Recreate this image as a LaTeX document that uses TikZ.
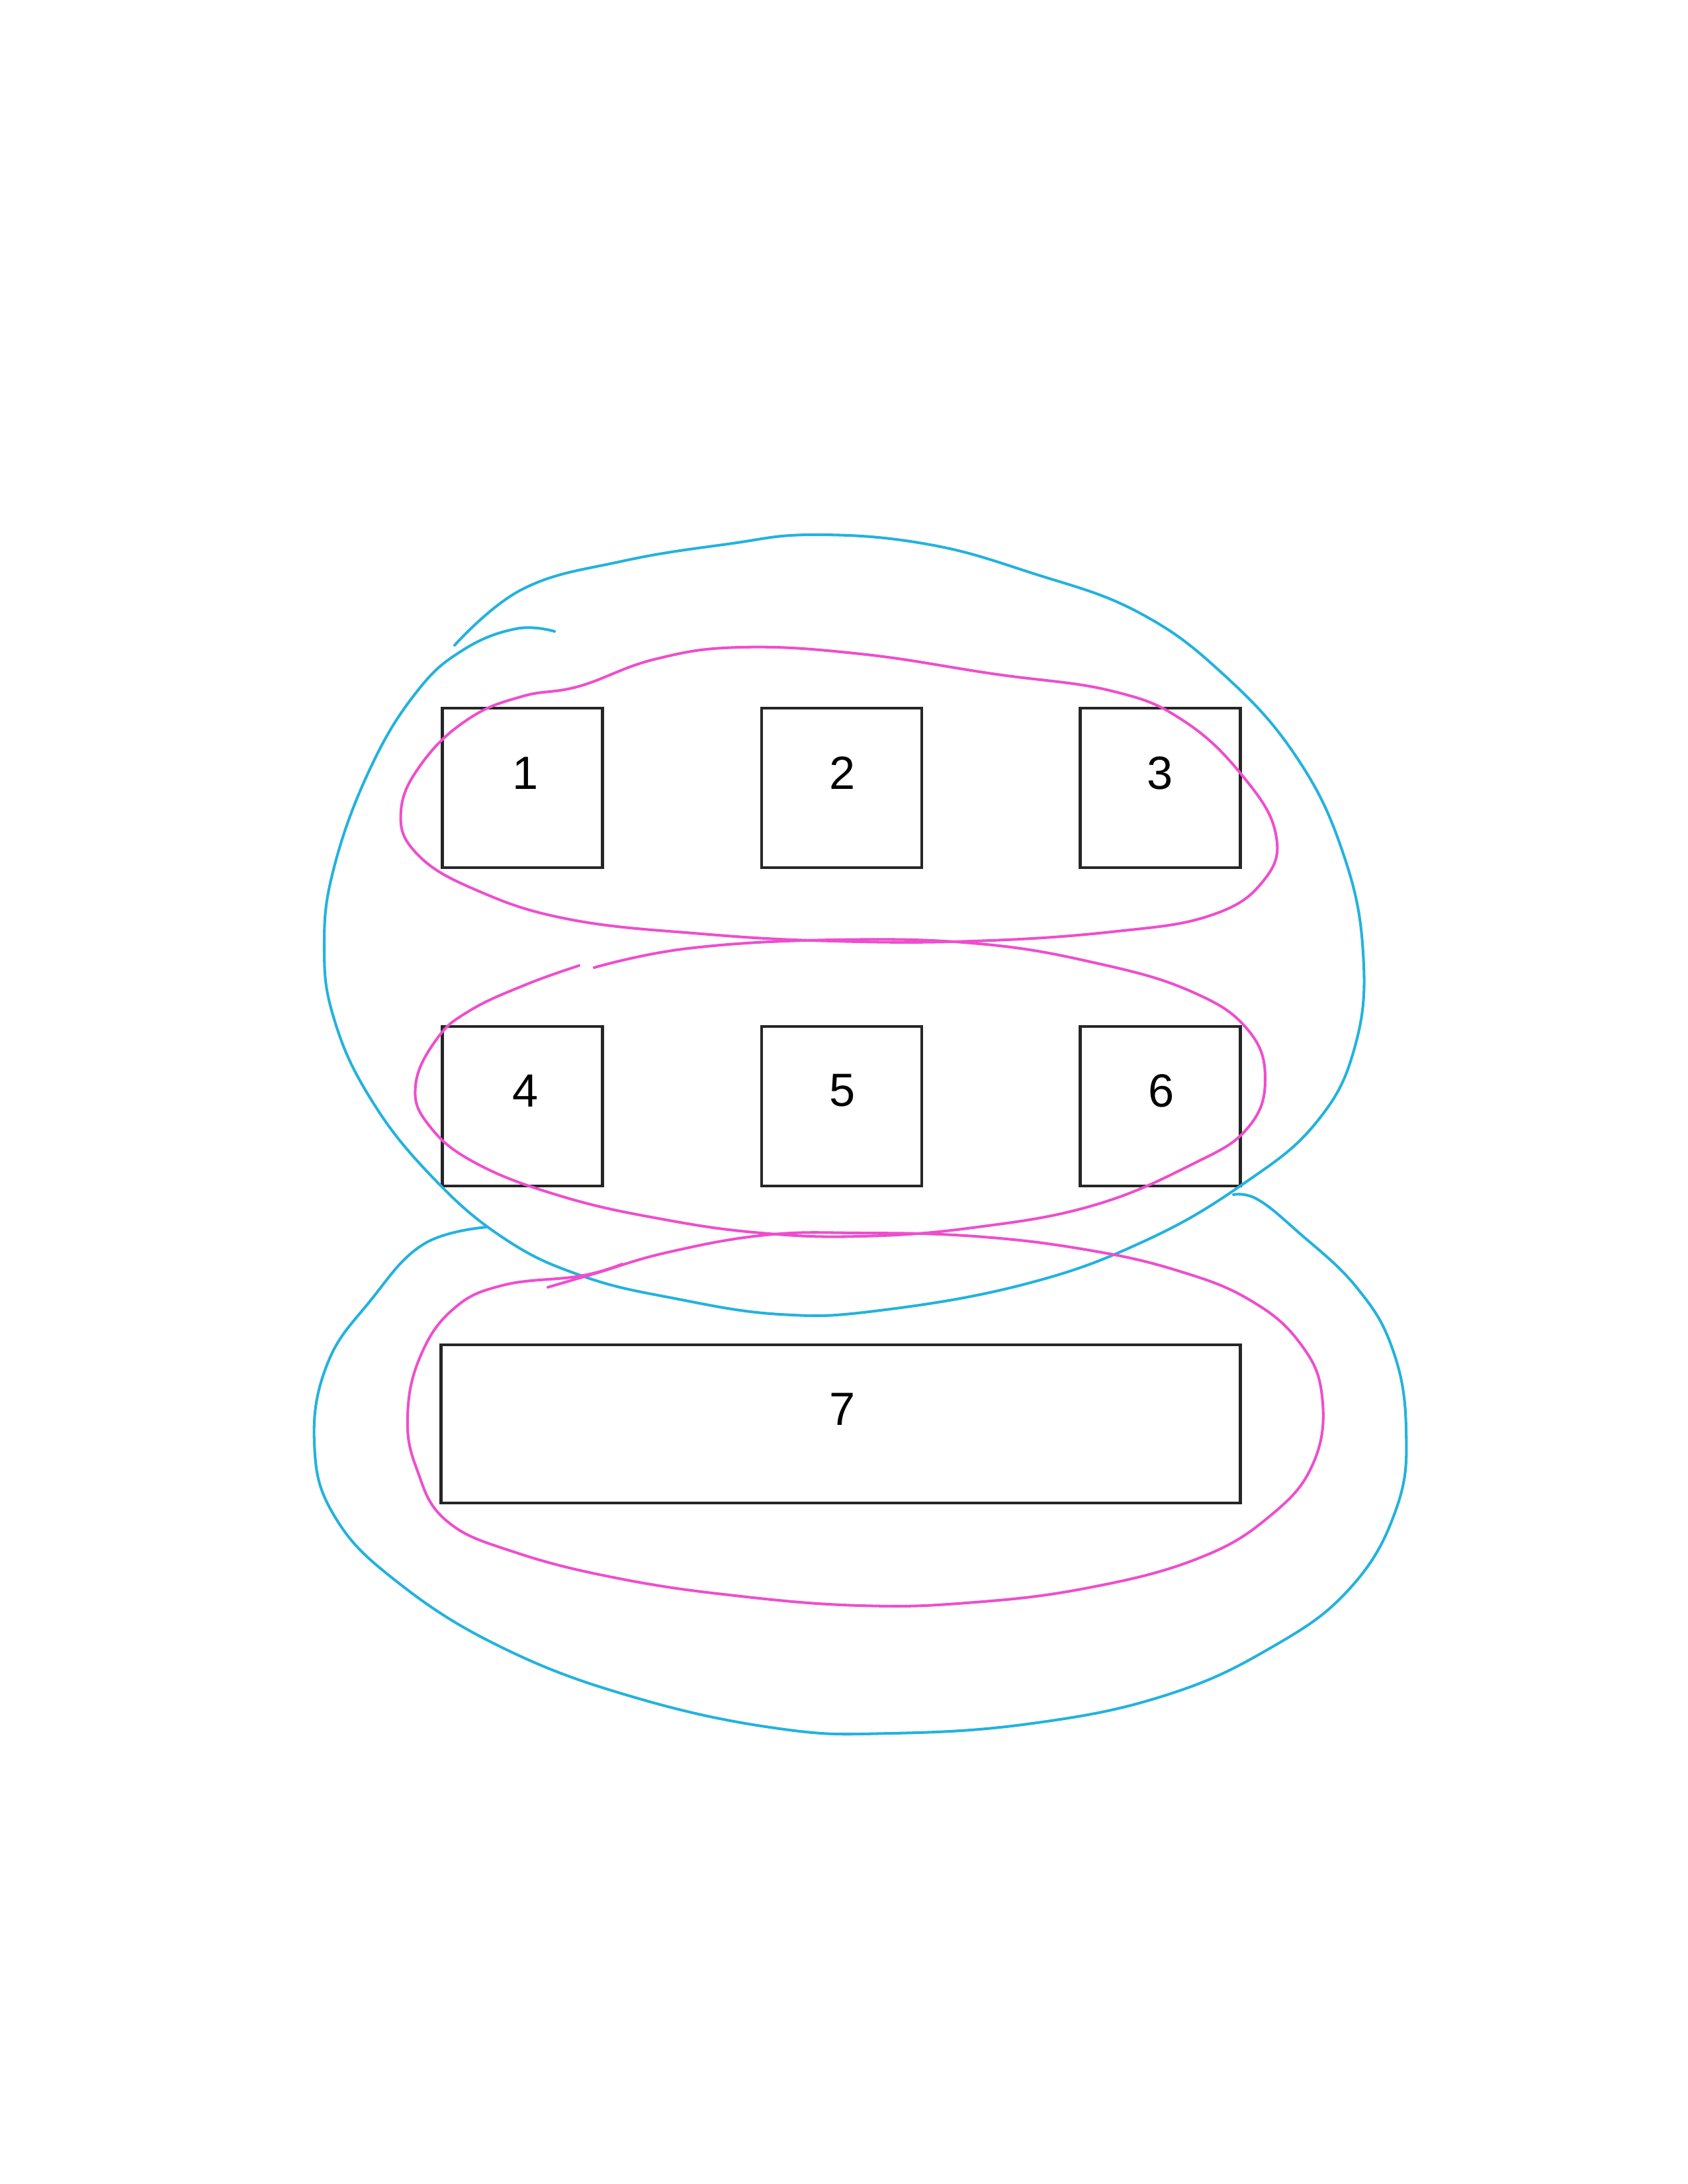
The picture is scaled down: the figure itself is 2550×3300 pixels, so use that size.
\documentclass[tikz,border=0pt]{standalone}
\usepackage{fontspec}
\setmainfont{Liberation Sans}
\definecolor{penblue}{RGB}{35,178,222}
\definecolor{penpink}{RGB}{238,78,205}
\begin{document}
\begin{tikzpicture}[x=0.01cm,y=-0.01cm,
  box/.style={draw=black!85,line width=1.3pt,inner sep=0pt,minimum width=2.42cm,minimum height=2.41cm},
  wide/.style={draw=black!85,line width=1.3pt,inner sep=0pt,minimum width=12.07cm,minimum height=2.39cm},
  lbl/.style={font=\fontsize{20}{24}\selectfont,inner sep=0pt},
  blue/.style={draw=penblue,line width=1.15pt,line cap=round,line join=round},
  pink/.style={draw=penpink,line width=1.15pt,line cap=round,line join=round}]
\useasboundingbox (0,0) rectangle (2550,3300);
\fill[white] (0,0) rectangle (2550,3300);
% boxes
\node[box] (b1) at (789.5,1190.5) {};
\node[box] (b2) at (1272,1190.5) {};
\node[box] (b3) at (1753.5,1190.5) {};
\node[box] (b4) at (789.5,1671.5) {};
\node[box] (b5) at (1272,1671.5) {};
\node[box] (b6) at (1753.5,1671.5) {};
\node[wide] (b7) at (1270.5,2151.5) {};
% labels
\node[lbl] (t1) at (794,1168) {1};
\node[lbl] (t2) at (1273,1168) {2};
\node[lbl] (t3) at (1753,1168) {3};
\node[lbl] (t4) at (794,1648) {4};
\node[lbl] (t5) at (1273,1648) {5};
\node[lbl] (t6) at (1755,1648) {6};
\node[lbl] (t7) at (1273,2129) {7};
% blue upper loop
\draw[blue] plot[smooth,tension=0.7] coordinates {
(687,975) (790,890) (940,848) (1100,822) (1230,808) (1400,822) (1560,866)
(1720,925) (1850,1020) (1960,1145) (2030,1290) (2060,1440) (2048,1580)
(1990,1695) (1880,1788) (1730,1875) (1550,1940) (1330,1980) (1180,1986)
(1020,1962) (880,1928) (760,1870) (650,1775) (560,1660) (505,1540) (490,1430)
(505,1310) (560,1160) (630,1045) (700,982) (780,950) (838,954)};
% blue lower loop
\draw[blue] plot[smooth,tension=0.7] coordinates {
(737,1854) (640,1880) (560,1965) (495,2060) (475,2180) (505,2290) (600,2390)
(760,2490) (960,2565) (1178,2612) (1347,2619) (1560,2604) (1760,2562)
(1920,2490) (2040,2400) (2110,2280) (2125,2160) (2105,2040) (2050,1945)
(1960,1860) (1900,1812) (1864,1805)};
% pink top loop
\draw[pink] plot[smooth cycle,tension=0.7] coordinates {
(875,1037) (990,996) (1120,978) (1300,988) (1500,1018) (1680,1044) (1790,1090)
(1880,1175) (1928,1260) (1910,1330) (1830,1383) (1680,1408) (1470,1422)
(1260,1422) (1060,1411) (860,1389) (720,1345) (630,1290) (606,1225) (640,1150)
(710,1085) (790,1052)};
% pink middle loop
\draw[pink] plot[smooth,tension=0.7] coordinates {
(898,1462) (1040,1433) (1262,1420) (1480,1426) (1660,1456) (1800,1498)
(1885,1555) (1912,1630) (1885,1705) (1800,1760) (1650,1822) (1470,1855)
(1300,1868) (1150,1863) (1000,1842) (850,1808) (720,1758) (648,1700)
(628,1640) (660,1570) (710,1527) (794,1488) (875,1459)};
% pink bottom loop
\draw[pink] plot[smooth,tension=0.7] coordinates {
(828,1945) (900,1924) (1010,1892) (1158,1866) (1300,1863) (1473,1868)
(1640,1888) (1780,1920) (1890,1965) (1965,2030) (1998,2110) (1985,2210)
(1920,2290) (1810,2355) (1640,2400) (1460,2422) (1300,2426) (1120,2412)
(940,2386) (780,2346) (675,2298) (630,2220) (616,2140) (635,2050) (685,1978)
(760,1942) (877,1928) (940,1910)};
\end{tikzpicture}
\end{document}
